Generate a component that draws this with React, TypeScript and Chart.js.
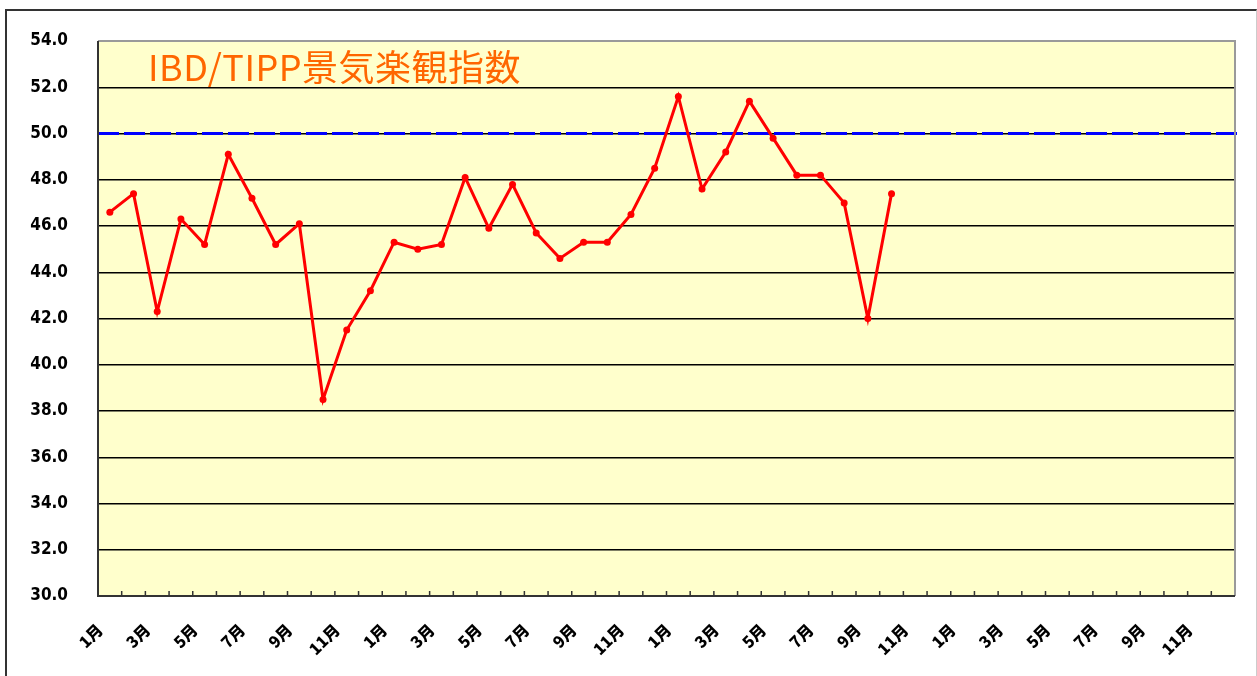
import React, { useEffect, useRef } from "react";
import { Chart, registerables } from "chart.js";

Chart.register(...registerables);

const TITLE = "IBD/TIPP景気楽観指数";
const MONTHS = ["1月", "2月", "3月", "4月", "5月", "6月", "7月", "8月", "9月", "10月", "11月", "12月"];
const YEAR_COUNT = 4;
const CATEGORIES: string[] = [];
for (let y = 0; y < YEAR_COUNT; y++) CATEGORIES.push(...MONTHS);

const INDEX_VALUES = [
  46.6, 47.4, 42.3, 46.3, 45.2, 49.1, 47.2, 45.2, 46.1, 38.5, 41.5, 43.2,
  45.3, 45.0, 45.2, 48.1, 45.9, 47.8, 45.7, 44.6, 45.3, 45.3, 46.5, 48.5,
  51.6, 47.6, 49.2, 51.4, 49.8, 48.2, 48.2, 47.0, 42.0, 47.4,
];
const THRESHOLD = 50;
const Y_MIN = 30;
const Y_MAX = 54;
const Y_STEP = 2;

const W = 1257;
const H = 676;

const framePlugin = {
  id: "framePlugin",
  beforeDraw(chart: any) {
    const { ctx, chartArea: a } = chart;
    ctx.save();
    ctx.fillStyle = "#FFFFCC";
    ctx.fillRect(a.left, a.top, a.right - a.left, a.bottom - a.top);
    ctx.restore();
  },
  beforeDatasetsDraw(chart: any) {
    const { ctx, chartArea: a, scales } = chart;
    const xs = scales.x;
    const ys = scales.y;
    ctx.save();
    // threshold line
    const yT = ys.getPixelForValue(THRESHOLD);
    ctx.strokeStyle = "#0000FF";
    ctx.lineWidth = 3;
    ctx.setLineDash([21, 5]);
    ctx.beginPath();
    ctx.moveTo(a.left, yT);
    ctx.lineTo(a.right + 2, yT);
    ctx.stroke();
    ctx.setLineDash([]);
    // top & right border
    ctx.strokeStyle = "#9a9a9a";
    ctx.lineWidth = 2;
    ctx.beginPath();
    ctx.moveTo(a.left, a.top);
    ctx.lineTo(a.right, a.top);
    ctx.lineTo(a.right, a.bottom);
    ctx.stroke();
    // left & bottom axis
    ctx.strokeStyle = "#333333";
    ctx.lineWidth = 2;
    ctx.beginPath();
    ctx.moveTo(a.left, a.top);
    ctx.lineTo(a.left, a.bottom);
    ctx.lineTo(a.right, a.bottom);
    ctx.stroke();
    // inward tick marks at category boundaries
    ctx.lineWidth = 1.5;
    ctx.beginPath();
    for (let i = 1; i < CATEGORIES.length; i++) {
      const x = (xs.getPixelForValue(i - 1) + xs.getPixelForValue(i)) / 2;
      ctx.moveTo(x, a.bottom);
      ctx.lineTo(x, a.bottom - 5);
    }
    ctx.stroke();
    // title
    ctx.fillStyle = "#FF6600";
    ctx.font = "36px 'Noto Sans CJK JP'";
    (ctx as any).letterSpacing = "0.5px";
    ctx.textBaseline = "middle";
    ctx.textAlign = "left";
    ctx.fillText(TITLE, a.left + 50, a.top + 26);
    ctx.restore();
  },
};

export default function App() {
  const ref = useRef<HTMLCanvasElement | null>(null);
  useEffect(() => {
    if (!ref.current) return;
    const chart = new Chart(ref.current, {
      type: "line",
      data: {
        labels: CATEGORIES,
        datasets: [
          {
            data: INDEX_VALUES,
            borderColor: "#FF0000",
            backgroundColor: "#FF0000",
            borderWidth: 3,
            pointRadius: 3.5,
            pointBorderWidth: 0,
            pointBackgroundColor: "#FF0000",
            tension: 0,
          },
        ],
      },
      options: {
        animation: false,
        responsive: false,
        layout: { padding: { left: 10, top: 41, right: 22, bottom: 0 } },
        plugins: { legend: { display: false }, tooltip: { enabled: false }, title: { display: false } },
        scales: {
          x: {
            type: "category",
            offset: true,
            grid: { display: false, drawTicks: false },
            border: { display: false },
            afterFit(scale: any) {
              scale.height = 80;
              scale.paddingLeft = 0;
              scale.paddingRight = 0;
            },
            ticks: {
              autoSkip: false,
              minRotation: 45,
              maxRotation: 45,
              padding: 24,
              labelOffset: -10,
              color: "#000",
              font: { family: "'Noto Sans CJK JP'", size: 16, weight: "900" },
              callback: (_v: any, i: number) => (i % 2 === 0 ? CATEGORIES[i] : ""),
            },
          },
          y: {
            min: Y_MIN,
            max: Y_MAX,
            grid: { color: "#000000", lineWidth: 1.5, drawTicks: false },
            border: { display: false },
            afterFit(scale: any) {
              scale.width = 88;
              scale.paddingTop = 0;
              scale.paddingBottom = 0;
            },
            ticks: {
              stepSize: Y_STEP,
              padding: 30,
              color: "#000",
              font: { family: "'DejaVu Sans Condensed', 'DejaVu Sans'", size: 17, weight: "bold" },
              callback: (v: any) => Number(v).toFixed(1),
            },
          },
        },
      },
      plugins: [framePlugin],
    });
    return () => chart.destroy();
  }, []);

  return (
    <div style={{ position: "fixed", left: 0, top: 0, width: W, height: H, overflow: "hidden", background: "#fff" }}>
      <div
        style={{
          position: "absolute",
          left: 5,
          top: 9,
          width: 1249,
          height: 720,
          borderLeft: "2px solid #333",
          borderTop: "2px solid #333",
          borderRight: "1px solid #ccc",
        }}
      />
      <canvas ref={ref} width={W} height={H} style={{ position: "absolute", left: 0, top: 0 }} />
    </div>
  );
}
